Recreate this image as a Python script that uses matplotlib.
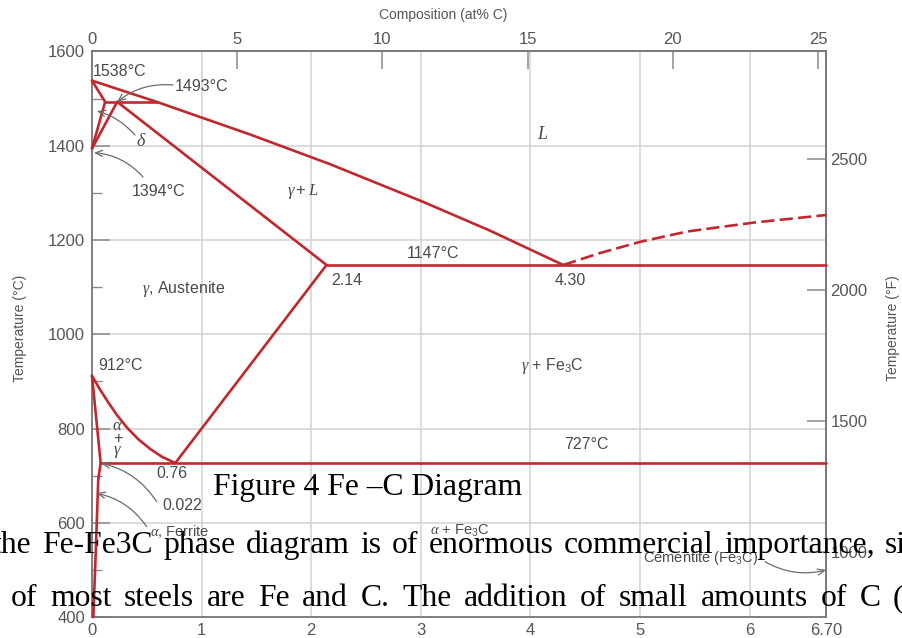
import matplotlib
matplotlib.use("Agg")
import matplotlib.pyplot as plt
import numpy as np

plt.rcParams['font.family'] = ['Liberation Sans', 'DejaVu Sans']
plt.rcParams['mathtext.fontset'] = 'custom'
plt.rcParams['mathtext.rm'] = 'Liberation Sans'
plt.rcParams['mathtext.it'] = 'Liberation Serif:italic'
plt.rcParams['mathtext.bf'] = 'Liberation Sans:bold'

# ---------------- data (wt% C, deg C) ----------------
liquidus_wt = [0.0, 0.59, 1.44, 2.17, 3.02, 3.63, 4.30]
liquidus_T = [1538, 1493, 1424, 1361, 1281, 1220, 1147]
liquidus_dash_wt = [4.30, 4.63, 5.0, 5.43, 6.04, 6.70]
liquidus_dash_T = [1147, 1172, 1196, 1218, 1237, 1253]
delta_upper_wt = [0.0, 0.12]
delta_upper_T = [1538, 1493]
delta_lower_wt = [0.12, 0.0]
delta_lower_T = [1493, 1394]
gamma_delta_wt = [0.23, 0.0]
gamma_delta_T = [1493, 1394]
peritectic_wt = [0.12, 0.59]
peritectic_T = [1493, 1493]
solidus_wt = [0.23, 2.14]
solidus_T = [1493, 1147]
eutectic_wt = [2.14, 6.70]
eutectic_T = [1147, 1147]
acm_wt = [2.14, 0.76]
acm_T = [1147, 727]
a3_wt = [0.0, 0.07, 0.15, 0.23, 0.32, 0.42, 0.53, 0.64, 0.76]
a3_T = [912, 884, 855, 828, 802, 778, 757, 740, 727]
alpha_upper_wt = [0.0, 0.079]
alpha_upper_T = [912, 727]
alpha_solvus_wt = [0.079, 0.057, 0.036, 0.012]
alpha_solvus_T = [727, 692, 550, 400]
eutectoid_wt = [0.079, 6.70]
eutectoid_T = [727, 727]

x_ticks = [0, 1, 2, 3, 4, 5, 6, 6.70]
x_ticklabels = ['0', '1', '2', '3', '4', '5', '6', '6.70']
y_ticks = [400, 600, 800, 1000, 1200, 1400, 1600]
y_minor = [500, 700, 900, 1100, 1300, 1500]
at_ticks = [0, 5, 10, 15, 20, 25]
f_ticks = [1000, 1500, 2000, 2500]
AT25_WT = 6.624

# ---------------- figure ----------------
W, H = 902, 638
fig = plt.figure(figsize=(W / 100, H / 100), dpi=100)
L, R, T, B = 92, 826.3, 51.4, 617.2
ax = fig.add_axes([L / W, 1 - B / H, (R - L) / W, (B - T) / H])
ax.set_xlim(0, 6.70)
ax.set_ylim(400, 1600)

def px(x, y):
    return ((x - L) / (R - L) * 6.70, 1600 - (y - T) / (B - T) * 1200)

RED = '#c1272d'
GRAY_T = '#4a4a4a'
TICKC = '#555555'

ax.set_xticks(x_ticks)
ax.set_xticklabels(x_ticklabels)
ax.set_yticks(y_ticks)
ax.set_yticks(y_minor, minor=True)
ax.grid(True, which='major', color='#d2d2d2', lw=1.1)
ax.set_axisbelow(True)
ax.tick_params(axis='x', length=0, labelsize=12, labelcolor=TICKC, pad=4)
ax.tick_params(axis='y', which='major', direction='in', length=13, width=1.1,
               color='#8a8a8a', labelsize=12, labelcolor=TICKC, pad=5)
ax.tick_params(axis='y', which='minor', direction='in', length=7, width=1.0,
               color='#8a8a8a')
for s in ax.spines.values():
    s.set_color('#777777')
    s.set_linewidth(1.3)

sx = ax.secondary_xaxis('top', functions=(lambda w: np.asarray(w) * 25 / AT25_WT,
                                           lambda a: np.asarray(a) * AT25_WT / 25))
sx.set_xticks(at_ticks)
sx.tick_params(direction='in', length=13, width=1.1, color='#8a8a8a',
               labelsize=12, labelcolor=TICKC, pad=3)
sx.spines['top'].set_color('#777777')
sx.spines['top'].set_linewidth(1.3)

sy = ax.secondary_yaxis('right', functions=(lambda c: np.asarray(c) * 9 / 5 + 32,
                                             lambda f: (np.asarray(f) - 32) * 5 / 9))
sy.set_yticks(f_ticks)
sy.tick_params(direction='in', length=14, width=1.1, color='#8a8a8a',
               labelsize=12, labelcolor=TICKC, pad=3)
sy.spines['right'].set_color('#777777')
sy.spines['right'].set_linewidth(1.3)

fig.text(443 / W, 1 - 15 / H, 'Composition (at% C)', ha='center', va='center',
         fontsize=10, color=TICKC)
fig.text(20 / W, 1 - 328 / H, 'Temperature (°C)', ha='center', va='center',
         rotation=90, fontsize=10, color=TICKC)
fig.text(893 / W, 1 - 328 / H, 'Temperature (°F)', ha='center', va='center',
         rotation=90, fontsize=10, color=TICKC)

# ---------------- phase lines ----------------
lw = 1.9
for xs, ys in [(liquidus_wt, liquidus_T), (delta_upper_wt, delta_upper_T),
               (delta_lower_wt, delta_lower_T), (gamma_delta_wt, gamma_delta_T),
               (peritectic_wt, peritectic_T), (solidus_wt, solidus_T),
               (eutectic_wt, eutectic_T), (acm_wt, acm_T), (a3_wt, a3_T),
               (alpha_upper_wt, alpha_upper_T), (alpha_solvus_wt, alpha_solvus_T),
               (eutectoid_wt, eutectoid_T)]:
    ax.plot(xs, ys, color=RED, lw=lw, solid_joinstyle='round', solid_capstyle='round',
            clip_on=False, zorder=3)
ax.plot(liquidus_dash_wt, liquidus_dash_T, color=RED, lw=lw, dashes=(5, 2),
        zorder=3, clip_on=False)

# ---------------- labels ----------------
FS = 11.5
def lab(x, y, s, ha='left', fs=FS, **kw):
    ax.text(*px(x, y), s, ha=ha, va='center', fontsize=fs, color=GRAY_T, **kw)

lab(93, 71, '1538°C')
lab(175, 86.5, '1493°C')
lab(141.7, 141, r'$\delta$', ha='center', fs=13)
lab(131.7, 191.5, '1394°C')
lab(303, 192, r'$\gamma + L$', ha='center', fs=12)
lab(543, 135, r'$L$', ha='center', fs=13)
lab(433, 253, '1147°C', ha='center')
lab(331, 280, '2.14')
lab(570, 280, '4.30', ha='center')
lab(141.7, 289, r'$\gamma$, Austenite')
lab(552, 366, r'$\gamma$ + Fe$_3$C', ha='center')
lab(98, 366, '912°C')
lab(117.7, 425, r'$\alpha$', ha='center', fs=12)
lab(117.7, 438, '+', ha='center', fs=12)
lab(117.7, 451.5, r'$\gamma$', ha='center', fs=12)
lab(586, 444, '727°C', ha='center')
lab(171.5, 474, '0.76', ha='center')
lab(182.5, 505.5, '0.022', ha='center')
lab(150, 532, r'$\alpha$, Ferrite', fs=10.5)
lab(460, 531, r'$\alpha$ + Fe$_3$C', ha='center', fs=10.5)
lab(701, 557.5, 'Cementite (Fe$_3$C)', ha='center', fs=10.5)

ap = dict(arrowstyle='->,head_length=0.5,head_width=0.22', color='#6a6a6a', lw=0.9,
          shrinkA=0, shrinkB=0)
def arrow(x0, y0, tip, rad):
    ax.annotate('', xy=tip, xytext=px(x0, y0),
                arrowprops=dict(ap, connectionstyle=f'arc3,rad={rad}'), annotation_clip=False)

arrow(173, 85, (0.23, 1493), 0.2)
arrow(135, 135, px(97, 111), 0.15)
arrow(143, 177, px(94, 152.7), 0.2)
arrow(156.7, 501.7, px(101.7, 463.3), 0.2)
arrow(146.7, 526.7, px(96.7, 493.3), 0.2)
arrow(765, 561.7, px(826, 570), 0.2)

# ---------------- overlay document text ----------------
SERIF = 'Liberation Serif'
TS = 22.8
fig.text(213 / W, 1 - 495 / H, 'Figure 4 Fe –C Diagram', fontsize=TS, family=SERIF,
         color='black', va='baseline', ha='left')

renderer = fig.canvas.get_renderer()
def justify(words, x0, xlast, ybase):
    ts = [fig.text(0, 0, w, fontsize=TS, family=SERIF, color='black', va='baseline')
          for w in words]
    widths = [t.get_window_extent(renderer=renderer).width for t in ts]
    gap = (xlast - x0 - sum(widths[:-1])) / (len(words) - 1)
    x = x0
    for t, w in zip(ts, widths):
        t.set_position((x / W, 1 - ybase / H))
        x += w + gap

justify(['the', 'Fe-Fe3C', 'phase', 'diagram', 'is', 'of', 'enormous', 'commercial',
         'importance,', 'since'], -7, 885, 553)
justify(['of', 'most', 'steels', 'are', 'Fe', 'and', 'C.', 'The', 'addition', 'of',
         'small', 'amounts', 'of', 'C', '('], 11, 893, 606)

fig.savefig('out.png', dpi=100)
